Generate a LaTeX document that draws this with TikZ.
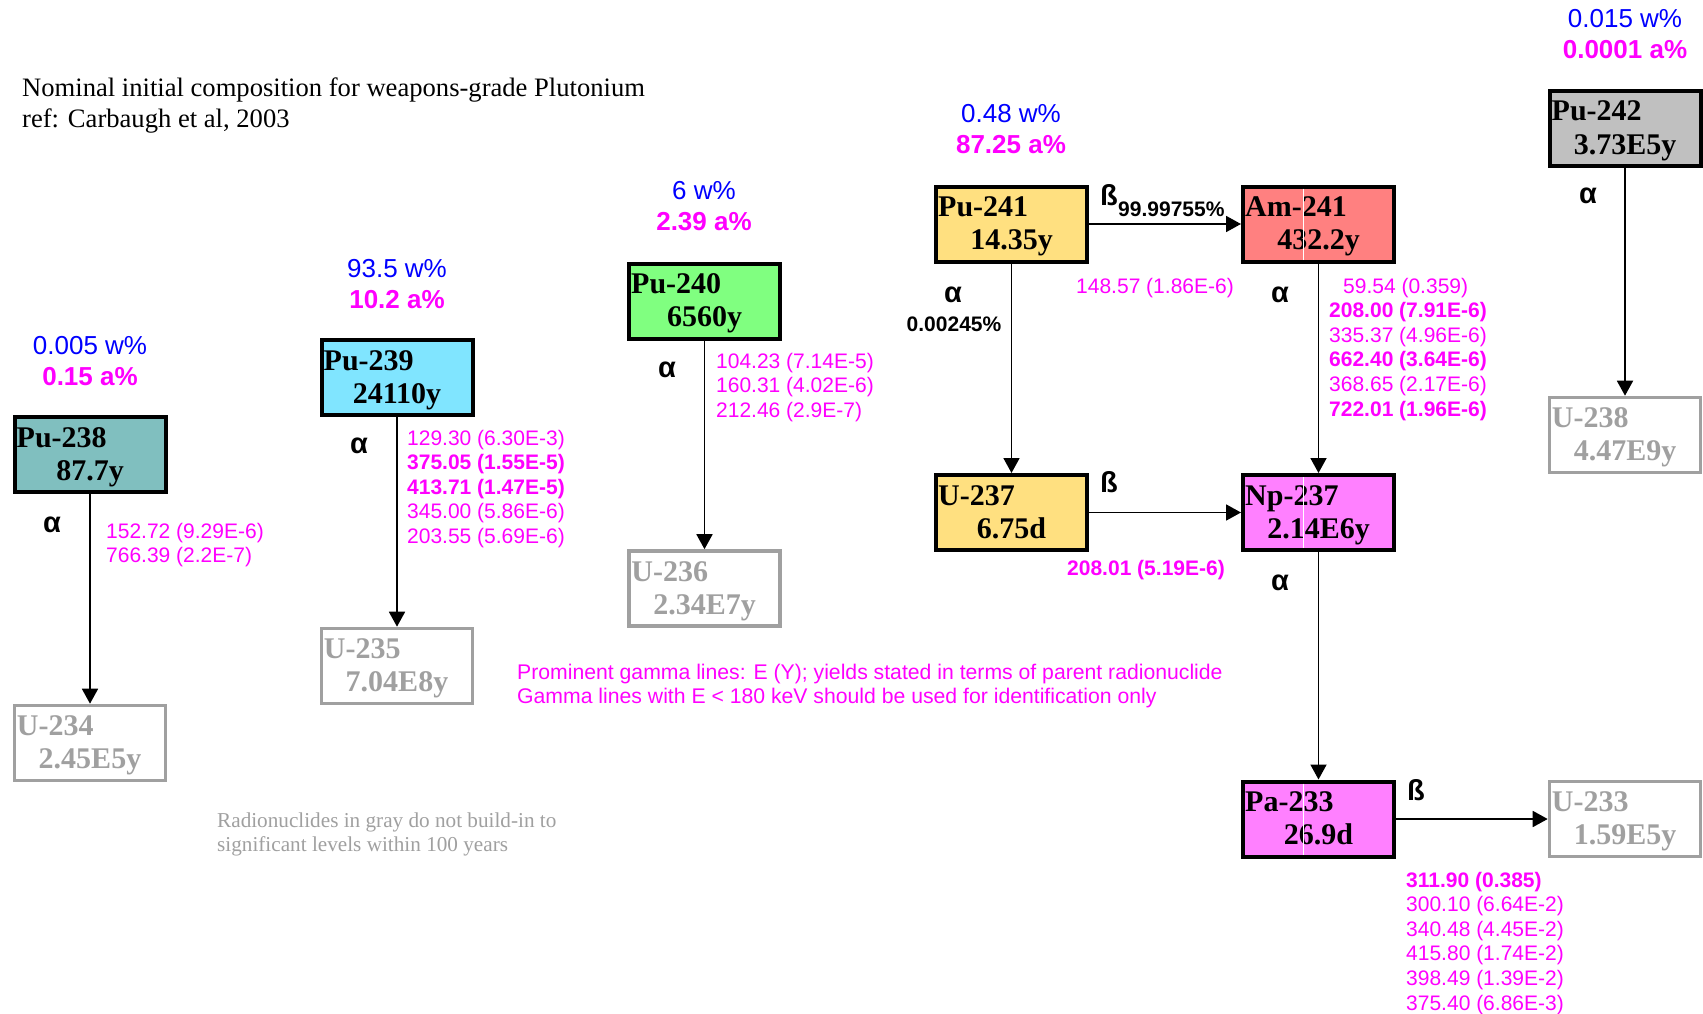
\documentclass[tikz,border=0pt]{standalone}
\usepackage{fontspec}
\setmainfont{Liberation Serif}
\newfontfamily\arialf{Liberation Sans}
\usetikzlibrary{arrows.meta}
\definecolor{mag}{RGB}{255,0,255}
\definecolor{blu}{RGB}{0,0,255}
\definecolor{grayc}{RGB}{160,160,160}
\definecolor{c238}{RGB}{128,191,191}
\definecolor{c239}{RGB}{128,229,255}
\definecolor{c240}{RGB}{128,255,128}
\definecolor{c241}{RGB}{255,224,128}
\definecolor{cam}{RGB}{255,128,128}
\definecolor{cnp}{RGB}{255,128,255}
\definecolor{c242}{RGB}{192,192,192}
\newcommand\nuc[7]{%
  \node[#4] (#1) at (#2,#3) {};
  \node[nname,text=#5] (#1n) at ([xshift=4pt,yshift=-32pt]#1.north west) {#6};
  \node[nlife,text=#5] (#1h) at ([yshift=-65pt]#1.north) {#7};
}
\begin{document}
\begin{tikzpicture}[x=1pt,y=-1pt,
  nucbox/.style={draw=black, line width=4pt, minimum width=151pt, minimum height=75pt, inner sep=0pt},
  daughter/.style={nucbox, draw=grayc, fill=white, line width=3.6pt},
  nname/.style={anchor=base west, inner sep=0pt, font=\fontsize{30}{30}\selectfont\bfseries},
  nlife/.style={anchor=base, inner sep=0pt, font=\fontsize{30}{30}\selectfont\bfseries},
  conn/.style={line width=1.8pt, -{Triangle[length=15pt,width=16pt]}},
  comp/.style={anchor=base, inner sep=0pt, font=\arialf\fontsize{26}{31}\selectfont},
  decay/.style={anchor=base, inner sep=0pt, font=\arialf\fontsize{29}{29}\selectfont\bfseries},
  decayw/.style={decay, anchor=base west},
  pct/.style={inner sep=0pt, font=\arialf\fontsize{21}{21}\selectfont\bfseries},
  gam/.style={anchor=base west, inner sep=0pt, text=mag, font=\arialf\fontsize{21}{24.6}\selectfont},
  artifact/.style={white, line width=0.8pt},
]
\useasboundingbox (0,0) rectangle (1703,1014);
\fill[white] (0,0) rectangle (1703,1014);

% nuclide boxes
\nuc{pu238}{90}{454.5}{nucbox,fill=c238}{black}{Pu-238}{87.7y}
\nuc{u234}{90}{743}{daughter}{grayc}{U-234}{2.45E5y}
\nuc{pu239}{397}{377.5}{nucbox,fill=c239}{black}{Pu-239}{24110y}
\nuc{u235}{397}{666}{daughter}{grayc}{U-235}{7.04E8y}
\nuc{pu240}{704.5}{301}{nucbox,fill=c240}{black}{Pu-240}{6560y}
\nuc{u236}{704.5}{588.5}{daughter}{grayc}{U-236}{2.34E7y}
\nuc{pu241}{1011.5}{224}{nucbox,fill=c241}{black}{Pu-241}{14.35y}
\nuc{am241}{1318.5}{224}{nucbox,fill=cam}{black}{Am-241}{432.2y}
\nuc{u237}{1011.5}{512.5}{nucbox,fill=c241}{black}{U-237}{6.75d}
\nuc{np237}{1318.5}{512.5}{nucbox,fill=cnp}{black}{Np-237}{2.14E6y}
\nuc{pa233}{1318.5}{819}{nucbox,fill=cnp}{black}{Pa-233}{26.9d}
\nuc{u233}{1625}{819}{daughter}{grayc}{U-233}{1.59E5y}
\nuc{pu242}{1625}{128.5}{nucbox,fill=c242}{black}{Pu-242}{3.73E5y}
\nuc{u238}{1625}{435}{daughter}{grayc}{U-238}{4.47E9y}

% thin white streaks through the right-hand boxes
\draw[artifact] ([xshift=-15.5pt,yshift=-4pt]am241.north) -- ([xshift=-15.5pt,yshift=4pt]am241.south);
\draw[artifact] ([xshift=-15.5pt,yshift=-4pt]np237.north) -- ([xshift=-15.5pt,yshift=4pt]np237.south);
\draw[artifact] ([xshift=-15.5pt,yshift=-4pt]pa233.north) -- ([xshift=-15.5pt,yshift=4pt]pa233.south);

% connectors
\draw[conn] (pu238.south) -- (u234.north);
\draw[conn] (pu239.south) -- (u235.north);
\draw[conn] (pu240.south) -- (u236.north);
\draw[conn] (pu241.south) -- (u237.north);
\draw[conn] (pu241.east) -- (am241.west);
\draw[conn] (am241.south) -- (np237.north);
\draw[conn] (u237.east) -- (np237.west);
\draw[conn] (np237.south) -- (pa233.north);
\draw[conn] (pa233.east) -- (u233.west);
\draw[conn] (pu242.south) -- (u238.north);

% compositions
\node[comp] (c238) at (90,354) {\begin{tabular}[t]{@{}c@{}}\textcolor{blu}{0.005 w\%}\\\textcolor{mag}{\bfseries 0.15 a\%}\end{tabular}};
\node[comp] (c239) at (397,277) {\begin{tabular}[t]{@{}c@{}}\textcolor{blu}{93.5 w\%}\\\textcolor{mag}{\bfseries 10.2 a\%}\end{tabular}};
\node[comp] (c240) at (704,200) {\begin{tabular}[t]{@{}c@{}}\textcolor{blu}{6 w\%}\\\textcolor{mag}{\bfseries 2.39 a\%}\end{tabular}};
\node[comp] (c241) at (1011,123) {\begin{tabular}[t]{@{}c@{}}\textcolor{blu}{0.48 w\%}\\\textcolor{mag}{\bfseries 87.25 a\%}\end{tabular}};
\node[comp] (c242) at (1625,28) {\begin{tabular}[t]{@{}c@{}}\textcolor{blu}{0.015 w\%}\\\textcolor{mag}{\bfseries 0.0001 a\%}\end{tabular}};

% decay modes
\node[decay] (a238) at (52,532) {α};
\node[decay] (a239) at (359,453) {α};
\node[decay] (a240) at (667,377) {α};
\node[decay] (a241) at (953,302) {α};
\node[decay] (aam) at (1280,302) {α};
\node[decay] (anp) at (1280,590) {α};
\node[decay] (a242) at (1588,203) {α};
\node[pct, anchor=base] (p241a) at (954,331) {0.00245\%};
\node[decayw] (b241) at (1100,205) {ß};
\node[pct, anchor=base west] (p241b) at (1118,216) {99.99755\%};
\node[decayw] (bu237) at (1100,492) {ß};
\node[decayw] (bpa) at (1407,800) {ß};

% gamma lines
\node[gam] (g238) at (106,538) {\begin{tabular}[t]{@{}l@{}}152.72 (9.29E-6)\\766.39 (2.2E-7)\end{tabular}};
\node[gam] (g239) at (407,445) {\begin{tabular}[t]{@{}l@{}}129.30 (6.30E-3)\\\textbf{375.05 (1.55E-5)}\\\textbf{413.71 (1.47E-5)}\\345.00 (5.86E-6)\\203.55 (5.69E-6)\end{tabular}};
\node[gam] (g240) at (716,368) {\begin{tabular}[t]{@{}l@{}}104.23 (7.14E-5)\\160.31 (4.02E-6)\\212.46 (2.9E-7)\end{tabular}};
\node[gam] (g241) at (1076,293) {148.57 (1.86E-6)};
\node[gam] (gam241) at (1329,293) {\begin{tabular}[t]{@{}l@{}}\hspace{14pt}59.54 (0.359)\\\textbf{208.00 (7.91E-6)}\\335.37 (4.96E-6)\\\textbf{662.40 (3.64E-6)}\\368.65 (2.17E-6)\\\textbf{722.01 (1.96E-6)}\end{tabular}};
\node[gam] (gu237) at (1067,575) {\textbf{208.01 (5.19E-6)}};
\node[gam] (gpa) at (1406,887) {\begin{tabular}[t]{@{}l@{}}\textbf{311.90 (0.385)}\\300.10 (6.64E-2)\\340.48 (4.45E-2)\\415.80 (1.74E-2)\\398.49 (1.39E-2)\\375.40 (6.86E-3)\end{tabular}};

% notes
\node[anchor=base west, inner sep=0pt, font=\fontsize{26.6}{31}\selectfont] (title) at (22,97) {\begin{tabular}[t]{@{}l@{}}Nominal initial composition for weapons-grade Plutonium\\ref: Carbaugh et al, 2003\end{tabular}};
\node[gam, font=\arialf\fontsize{21.2}{24.3}\selectfont] (gnote) at (517,679) {\begin{tabular}[t]{@{}l@{}}Prominent gamma lines: E (Y); yields stated in terms of parent radionuclide\\Gamma lines with E < 180 keV should be used for identification only\end{tabular}};
\node[anchor=base west, inner sep=0pt, text=grayc, font=\fontsize{21.2}{24}\selectfont] (graynote) at (217,827) {\begin{tabular}[t]{@{}l@{}}Radionuclides in gray do not build-in to\\significant levels within 100 years\end{tabular}};
\end{tikzpicture}
\end{document}
